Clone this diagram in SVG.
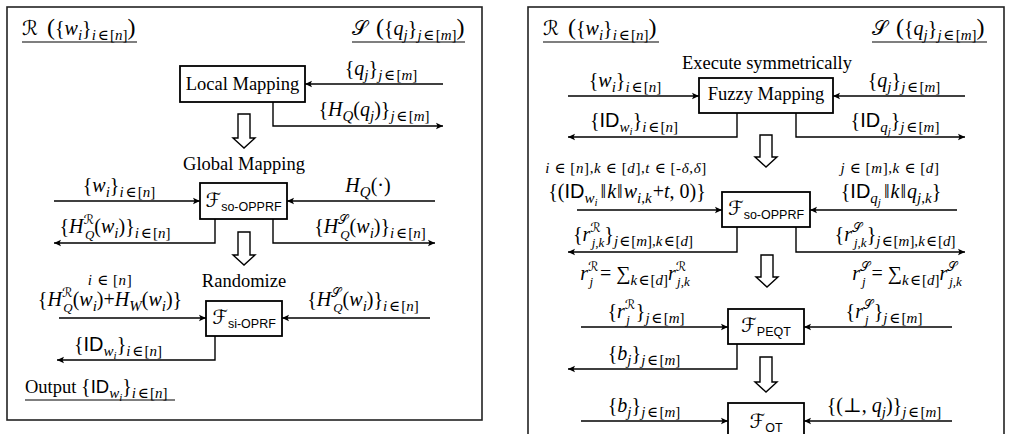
<svg xmlns="http://www.w3.org/2000/svg" width="1011" height="434" viewBox="0 0 1011 434">
<style>
.m{font-family:"Liberation Serif","DejaVu Serif",serif;font-size:18.5px;fill:#000}
.x{font-size:20px}
.i{font-style:italic}
.s{font-size:15px}
.sp{font-size:13px}
.ss{font-size:11px}
.sm{font-size:15px;letter-spacing:0.6px}
.sf{font-family:"Liberation Sans","DejaVu Sans",sans-serif;font-style:normal}
.fs{font-size:12.5px}
.cal{font-family:"DejaVu Serif","DejaVu Sans","Noto Sans",serif;font-style:normal}
.big{font-size:24px}
.panel{fill:#fff;stroke:#222;stroke-width:1.6}
.box{fill:#fff;stroke:#000;stroke-width:1.8}
.ul{stroke:#000;stroke-width:1.2}
.c{fill:none;stroke:#000;stroke-width:1.4;marker-end:url(#ah)}
.ha{fill:#fff;stroke:#000;stroke-width:1.4}
</style>
<defs>
<marker id="ah" viewBox="-8 -4 9 8" refX="0" refY="0" markerWidth="9" markerHeight="8" markerUnits="userSpaceOnUse" orient="auto"><path d="M0,0 L-7,-3.2 L-5.5,0 L-7,3.2 Z" fill="#000"/></marker>
</defs>
<rect width="1011" height="434" fill="#fff"/>
<g id="panel-left">
<rect class="panel" x="7" y="7" width="475" height="413"/>
<text class="m x" x="22" y="35"><tspan class="cal">ℛ</tspan><tspan class="big" dx="9">(</tspan>{<tspan class="i">w</tspan><tspan class="s i" dy="5">i</tspan><tspan dy="-5">}</tspan><tspan class="s i" dy="5">i</tspan><tspan class="s" dx="1.5">∈</tspan><tspan class="s" dx="1.5">[</tspan><tspan class="s i">n</tspan><tspan class="s">]</tspan><tspan class="big" dy="-5">)</tspan></text>
<line class="ul" x1="22" y1="42" x2="137" y2="42"/>
<text class="m x" x="352" y="35"><tspan class="cal">𝒮</tspan><tspan class="big" dx="9">(</tspan>{<tspan class="i">q</tspan><tspan class="s i" dy="5">j</tspan><tspan dy="-5">}</tspan><tspan class="s i" dy="5">j</tspan><tspan class="s" dx="1.5">∈</tspan><tspan class="s" dx="1.5">[</tspan><tspan class="s i">m</tspan><tspan class="s">]</tspan><tspan class="big" dy="-5">)</tspan></text>
<line class="ul" x1="352" y1="42" x2="465" y2="42"/>
<text class="m" x="244" y="170" text-anchor="middle">Global Mapping</text>
<text class="m" x="244" y="287" text-anchor="middle">Randomize</text>
<text class="m" x="25" y="393">Output <tspan class="x">{</tspan><tspan class="sf">ID</tspan><tspan class="s i" dy="5">w</tspan><tspan class="ss i" dy="3">i</tspan><tspan class="x" dy="-8">}</tspan><tspan class="s i" dy="5">i</tspan><tspan class="s" dx="1.5">∈</tspan><tspan class="s" dx="1.5">[</tspan><tspan class="s i">n</tspan><tspan class="s">]</tspan></text>
<line class="ul" x1="25" y1="400" x2="175" y2="400"/>
</g>
<g id="panel-right">
<rect class="panel" x="528" y="7" width="476" height="440"/>
<text class="m x" x="543" y="35"><tspan class="cal">ℛ</tspan><tspan class="big" dx="9">(</tspan>{<tspan class="i">w</tspan><tspan class="s i" dy="5">i</tspan><tspan dy="-5">}</tspan><tspan class="s i" dy="5">i</tspan><tspan class="s" dx="1.5">∈</tspan><tspan class="s" dx="1.5">[</tspan><tspan class="s i">n</tspan><tspan class="s">]</tspan><tspan class="big" dy="-5">)</tspan></text>
<line class="ul" x1="543" y1="42" x2="659" y2="42"/>
<text class="m x" x="872" y="35"><tspan class="cal">𝒮</tspan><tspan class="big" dx="9">(</tspan>{<tspan class="i">q</tspan><tspan class="s i" dy="5">j</tspan><tspan dy="-5">}</tspan><tspan class="s i" dy="5">j</tspan><tspan class="s" dx="1.5">∈</tspan><tspan class="s" dx="1.5">[</tspan><tspan class="s i">m</tspan><tspan class="s">]</tspan><tspan class="big" dy="-5">)</tspan></text>
<line class="ul" x1="872" y1="42" x2="987" y2="42"/>
<text class="m" x="767" y="69" text-anchor="middle">Execute symmetrically</text>
</g>
<g id="local-mapping">
<rect class="box" x="180" y="66" width="125" height="36"/>
<text class="m" x="242.5" y="90" text-anchor="middle">Local Mapping</text>
</g>
<g id="so-opprf-left">
<rect class="box" x="200" y="183" width="87" height="36"/>
<text class="m x" x="243.5" y="207" text-anchor="middle"><tspan class="cal">ℱ</tspan><tspan class="sf fs" dy="4">so-OPPRF</tspan></text>
</g>
<g id="si-oprf">
<rect class="box" x="206" y="301" width="76" height="35"/>
<text class="m x" x="244" y="324" text-anchor="middle"><tspan class="cal">ℱ</tspan><tspan class="sf fs" dy="4">si-OPRF</tspan></text>
</g>
<g id="fuzzy-mapping">
<rect class="box" x="699" y="78" width="134" height="35"/>
<text class="m" x="766" y="100" text-anchor="middle">Fuzzy Mapping</text>
</g>
<g id="so-opprf-right">
<rect class="box" x="722" y="192" width="88" height="35"/>
<text class="m x" x="766" y="215" text-anchor="middle"><tspan class="cal">ℱ</tspan><tspan class="sf fs" dy="4">so-OPPRF</tspan></text>
</g>
<g id="peqt">
<rect class="box" x="728" y="309" width="76" height="35"/>
<text class="m x" x="766" y="332" text-anchor="middle"><tspan class="cal">ℱ</tspan><tspan class="sf fs" dy="4">PEQT</tspan></text>
</g>
<g id="ot">
<rect class="box" x="728" y="403" width="76" height="40"/>
<text class="m x" x="766" y="428" text-anchor="middle"><tspan class="cal">ℱ</tspan><tspan class="sf fs" dy="4">OT</tspan></text>
</g>
<g id="connectors">
<path class="c" d="M443,84 H305"/>
<path class="c" d="M273,102 V126 H443"/>
<path class="c" d="M54,201 H200"/>
<path class="c" d="M435,201 H287"/>
<path class="c" d="M215,219 V243 H54"/>
<path class="c" d="M273,219 V243 H435"/>
<path class="c" d="M59,318 H206"/>
<path class="c" d="M430,318 H282"/>
<path class="c" d="M215,336 V360 H57"/>
<path class="c" d="M568,96 H699"/>
<path class="c" d="M965,96 H833"/>
<path class="c" d="M737,113 V137 H568"/>
<path class="c" d="M796,113 V137 H965"/>
<path class="c" d="M577,210 H722"/>
<path class="c" d="M957,210 H810"/>
<path class="c" d="M737,227 V252 H568"/>
<path class="c" d="M796,227 V252 H965"/>
<path class="c" d="M581,327 H728"/>
<path class="c" d="M952,327 H804"/>
<path class="c" d="M737,344 V369 H568"/>
<path class="c" d="M581,421 H728"/>
<path class="c" d="M952,421 H804"/>
<path class="ha" d="M238,114 H250 V138 H255 L244,148 L233,138 H238 Z"/>
<path class="ha" d="M238,232 H250 V255 H255 L244,265 L233,255 H238 Z"/>
<path class="ha" d="M760,135 H772 V157 H777 L766,167 L755,157 H760 Z"/>
<path class="ha" d="M761,255 H773 V277 H778 L767,287 L756,277 H761 Z"/>
<path class="ha" d="M760,357 H772 V382 H777 L766,392 L755,382 H760 Z"/>
</g>
<g id="labels">
<text class="m x" x="381" y="75" text-anchor="middle">{<tspan class="i">q</tspan><tspan class="s i" dy="5">j</tspan><tspan dy="-5">}</tspan><tspan class="s i" dy="5">j</tspan><tspan class="s" dx="1.5">∈</tspan><tspan class="s" dx="1.5">[</tspan><tspan class="s i">m</tspan><tspan class="s">]</tspan></text>
<text class="m x" x="374" y="116" text-anchor="middle">{<tspan class="i">H</tspan><tspan class="s i" dy="5">Q</tspan><tspan dy="-5">(</tspan><tspan class="i">q</tspan><tspan class="s i" dy="5">j</tspan><tspan dy="-5">)}</tspan><tspan class="s i" dy="5">j</tspan><tspan class="s" dx="1.5">∈</tspan><tspan class="s" dx="1.5">[</tspan><tspan class="s i">m</tspan><tspan class="s">]</tspan></text>
<text class="m x" x="119" y="192" text-anchor="middle">{<tspan class="i">w</tspan><tspan class="s i" dy="5">i</tspan><tspan dy="-5">}</tspan><tspan class="s i" dy="5">i</tspan><tspan class="s" dx="1.5">∈</tspan><tspan class="s" dx="1.5">[</tspan><tspan class="s i">n</tspan><tspan class="s">]</tspan></text>
<text class="m x" x="368" y="192" text-anchor="middle"><tspan class="i">H</tspan><tspan class="s i" dy="5">Q</tspan><tspan dy="-5">(·)</tspan></text>
<text class="m x" x="115" y="233" text-anchor="middle">{<tspan class="i">H</tspan><tspan class="sp cal" dy="-9">ℛ</tspan><tspan class="sp i" dx="-9" dy="15">Q</tspan><tspan dy="-6">(</tspan><tspan class="i">w</tspan><tspan class="s i" dy="5">i</tspan><tspan dy="-5">)}</tspan><tspan class="s i" dy="5">i</tspan><tspan class="s" dx="1.5">∈</tspan><tspan class="s" dx="1.5">[</tspan><tspan class="s i">n</tspan><tspan class="s">]</tspan></text>
<text class="m x" x="370" y="233" text-anchor="middle">{<tspan class="i">H</tspan><tspan class="sp cal" dy="-9">𝒮</tspan><tspan class="sp i" dx="-8" dy="15">Q</tspan><tspan dy="-6">(</tspan><tspan class="i">w</tspan><tspan class="s i" dy="5">i</tspan><tspan dy="-5">)}</tspan><tspan class="s i" dy="5">i</tspan><tspan class="s" dx="1.5">∈</tspan><tspan class="s" dx="1.5">[</tspan><tspan class="s i">n</tspan><tspan class="s">]</tspan></text>
<text class="m sm" x="110" y="285" text-anchor="middle"><tspan class="i">i</tspan> ∈ [<tspan class="i">n</tspan>]</text>
<text class="m x" x="110" y="306" text-anchor="middle">{<tspan class="i">H</tspan><tspan class="sp cal" dy="-9">ℛ</tspan><tspan class="sp i" dx="-9" dy="15">Q</tspan><tspan dy="-6">(</tspan><tspan class="i">w</tspan><tspan class="s i" dy="5">i</tspan><tspan dy="-5">)+</tspan><tspan class="i">H</tspan><tspan class="s i" dy="5">W</tspan><tspan dy="-5">(</tspan><tspan class="i">w</tspan><tspan class="s i" dy="5">i</tspan><tspan dy="-5">)}</tspan></text>
<text class="m x" x="363" y="306" text-anchor="middle">{<tspan class="i">H</tspan><tspan class="sp cal" dy="-9">𝒮</tspan><tspan class="sp i" dx="-8" dy="15">Q</tspan><tspan dy="-6">(</tspan><tspan class="i">w</tspan><tspan class="s i" dy="5">i</tspan><tspan dy="-5">)}</tspan><tspan class="s i" dy="5">i</tspan><tspan class="s" dx="1.5">∈</tspan><tspan class="s" dx="1.5">[</tspan><tspan class="s i">n</tspan><tspan class="s">]</tspan></text>
<text class="m x" x="118" y="351" text-anchor="middle">{<tspan class="sf">ID</tspan><tspan class="s i" dy="5">w</tspan><tspan class="ss i" dy="3">i</tspan><tspan dy="-8">}</tspan><tspan class="s i" dy="5">i</tspan><tspan class="s" dx="1.5">∈</tspan><tspan class="s" dx="1.5">[</tspan><tspan class="s i">n</tspan><tspan class="s">]</tspan></text>
<text class="m x" x="625" y="87" text-anchor="middle">{<tspan class="i">w</tspan><tspan class="s i" dy="5">i</tspan><tspan dy="-5">}</tspan><tspan class="s i" dy="5">i</tspan><tspan class="s" dx="1.5">∈</tspan><tspan class="s" dx="1.5">[</tspan><tspan class="s i">n</tspan><tspan class="s">]</tspan></text>
<text class="m x" x="904" y="87" text-anchor="middle">{<tspan class="i">q</tspan><tspan class="s i" dy="5">j</tspan><tspan dy="-5">}</tspan><tspan class="s i" dy="5">j</tspan><tspan class="s" dx="1.5">∈</tspan><tspan class="s" dx="1.5">[</tspan><tspan class="s i">m</tspan><tspan class="s">]</tspan></text>
<text class="m x" x="634" y="127" text-anchor="middle">{<tspan class="sf">ID</tspan><tspan class="s i" dy="5">w</tspan><tspan class="ss i" dy="3">i</tspan><tspan dy="-8">}</tspan><tspan class="s i" dy="5">i</tspan><tspan class="s" dx="1.5">∈</tspan><tspan class="s" dx="1.5">[</tspan><tspan class="s i">n</tspan><tspan class="s">]</tspan></text>
<text class="m x" x="895" y="127" text-anchor="middle">{<tspan class="sf">ID</tspan><tspan class="s i" dy="5">q</tspan><tspan class="ss i" dy="3">j</tspan><tspan dy="-8">}</tspan><tspan class="s i" dy="5">j</tspan><tspan class="s" dx="1.5">∈</tspan><tspan class="s" dx="1.5">[</tspan><tspan class="s i">m</tspan><tspan class="s">]</tspan></text>
<text class="m sm" x="626" y="173" text-anchor="middle"><tspan class="i">i</tspan> ∈ [<tspan class="i">n</tspan>],<tspan class="i">k</tspan> ∈ [<tspan class="i">d</tspan>],<tspan class="i">t</tspan> ∈ [-<tspan class="i">δ</tspan>,<tspan class="i">δ</tspan>]</text>
<text class="m x" x="627" y="198" text-anchor="middle">{(<tspan class="sf">ID</tspan><tspan class="s i" dy="5">w</tspan><tspan class="ss i" dy="3">i</tspan><tspan dy="-8" dx="3">‖</tspan><tspan class="i" dx="1">k</tspan><tspan dx="1">‖</tspan><tspan class="i" dx="1">w</tspan><tspan class="s i" dy="5">i</tspan><tspan class="s">,</tspan><tspan class="s i">k</tspan><tspan dy="-5" dx="1">+</tspan><tspan class="i">t</tspan>, 0)}</text>
<text class="m sm" x="890" y="173" text-anchor="middle"><tspan class="i">j</tspan> ∈ [<tspan class="i">m</tspan>],<tspan class="i">k</tspan> ∈ [<tspan class="i">d</tspan>]</text>
<text class="m x" x="891" y="198" text-anchor="middle">{<tspan class="sf">ID</tspan><tspan class="s i" dy="5">q</tspan><tspan class="ss i" dy="3">j</tspan><tspan dy="-8" dx="3">‖</tspan><tspan class="i" dx="1">k</tspan><tspan dx="1">‖</tspan><tspan class="i" dx="1">q</tspan><tspan class="s i" dy="5">j</tspan><tspan class="s">,</tspan><tspan class="s i">k</tspan><tspan dy="-5">}</tspan></text>
<text class="m x" x="633" y="241" text-anchor="middle">{<tspan class="i">r</tspan><tspan class="sp cal" dy="-9">ℛ</tspan><tspan class="sp i" dx="-9" dy="15">j</tspan><tspan class="sp">,</tspan><tspan class="sp i">k</tspan><tspan dy="-6">}</tspan><tspan class="s i" dy="5">j</tspan><tspan class="s" dx="1">∈</tspan><tspan class="s" dx="1">[</tspan><tspan class="s i">m</tspan><tspan class="s">],</tspan><tspan class="s i">k</tspan><tspan class="s" dx="1">∈</tspan><tspan class="s" dx="1">[</tspan><tspan class="s i">d</tspan><tspan class="s">]</tspan></text>
<text class="m x" x="895" y="241" text-anchor="middle">{<tspan class="i">r</tspan><tspan class="sp cal" dy="-9">𝒮</tspan><tspan class="sp i" dx="-8" dy="15">j</tspan><tspan class="sp">,</tspan><tspan class="sp i">k</tspan><tspan dy="-6">}</tspan><tspan class="s i" dy="5">j</tspan><tspan class="s" dx="1">∈</tspan><tspan class="s" dx="1">[</tspan><tspan class="s i">m</tspan><tspan class="s">],</tspan><tspan class="s i">k</tspan><tspan class="s" dx="1">∈</tspan><tspan class="s" dx="1">[</tspan><tspan class="s i">d</tspan><tspan class="s">]</tspan></text>
<text class="m x" x="635" y="280" text-anchor="middle"><tspan class="i">r</tspan><tspan class="sp cal" dy="-9">ℛ</tspan><tspan class="sp i" dx="-9" dy="15">j</tspan><tspan dy="-6" dx="7">= ∑</tspan><tspan class="s i" dy="5">k</tspan><tspan class="s" dx="1">∈</tspan><tspan class="s" dx="1">[</tspan><tspan class="s i">d</tspan><tspan class="s">]</tspan><tspan class="i" dy="-5">r</tspan><tspan class="sp cal" dy="-9">ℛ</tspan><tspan class="sp i" dx="-9" dy="15">j</tspan><tspan class="sp">,</tspan><tspan class="sp i">k</tspan></text>
<text class="m x" x="907" y="280" text-anchor="middle"><tspan class="i">r</tspan><tspan class="sp cal" dy="-9">𝒮</tspan><tspan class="sp i" dx="-8" dy="15">j</tspan><tspan dy="-6" dx="6">= ∑</tspan><tspan class="s i" dy="5">k</tspan><tspan class="s" dx="1">∈</tspan><tspan class="s" dx="1">[</tspan><tspan class="s i">d</tspan><tspan class="s">]</tspan><tspan class="i" dy="-5">r</tspan><tspan class="sp cal" dy="-9">𝒮</tspan><tspan class="sp i" dx="-8" dy="15">j</tspan><tspan class="sp">,</tspan><tspan class="sp i">k</tspan></text>
<text class="m x" x="646" y="318" text-anchor="middle">{<tspan class="i">r</tspan><tspan class="sp cal" dy="-9">ℛ</tspan><tspan class="sp i" dx="-9" dy="15">j</tspan><tspan dy="-6" dx="6">}</tspan><tspan class="s i" dy="5">j</tspan><tspan class="s" dx="1.5">∈</tspan><tspan class="s" dx="1.5">[</tspan><tspan class="s i">m</tspan><tspan class="s">]</tspan></text>
<text class="m x" x="884" y="318" text-anchor="middle">{<tspan class="i">r</tspan><tspan class="sp cal" dy="-9">𝒮</tspan><tspan class="sp i" dx="-8" dy="15">j</tspan><tspan dy="-6" dx="5">}</tspan><tspan class="s i" dy="5">j</tspan><tspan class="s" dx="1.5">∈</tspan><tspan class="s" dx="1.5">[</tspan><tspan class="s i">m</tspan><tspan class="s">]</tspan></text>
<text class="m x" x="644" y="360" text-anchor="middle">{<tspan class="i">b</tspan><tspan class="s i" dy="5">j</tspan><tspan dy="-5">}</tspan><tspan class="s i" dy="5">j</tspan><tspan class="s" dx="1.5">∈</tspan><tspan class="s" dx="1.5">[</tspan><tspan class="s i">m</tspan><tspan class="s">]</tspan></text>
<text class="m x" x="644" y="412" text-anchor="middle">{<tspan class="i">b</tspan><tspan class="s i" dy="5">j</tspan><tspan dy="-5">}</tspan><tspan class="s i" dy="5">j</tspan><tspan class="s" dx="1.5">∈</tspan><tspan class="s" dx="1.5">[</tspan><tspan class="s i">m</tspan><tspan class="s">]</tspan></text>
<text class="m x" x="884" y="412" text-anchor="middle">{(⊥, <tspan class="i">q</tspan><tspan class="s i" dy="5">j</tspan><tspan dy="-5">)}</tspan><tspan class="s i" dy="5">j</tspan><tspan class="s" dx="1.5">∈</tspan><tspan class="s" dx="1.5">[</tspan><tspan class="s i">m</tspan><tspan class="s">]</tspan></text>
</g>
</svg>
